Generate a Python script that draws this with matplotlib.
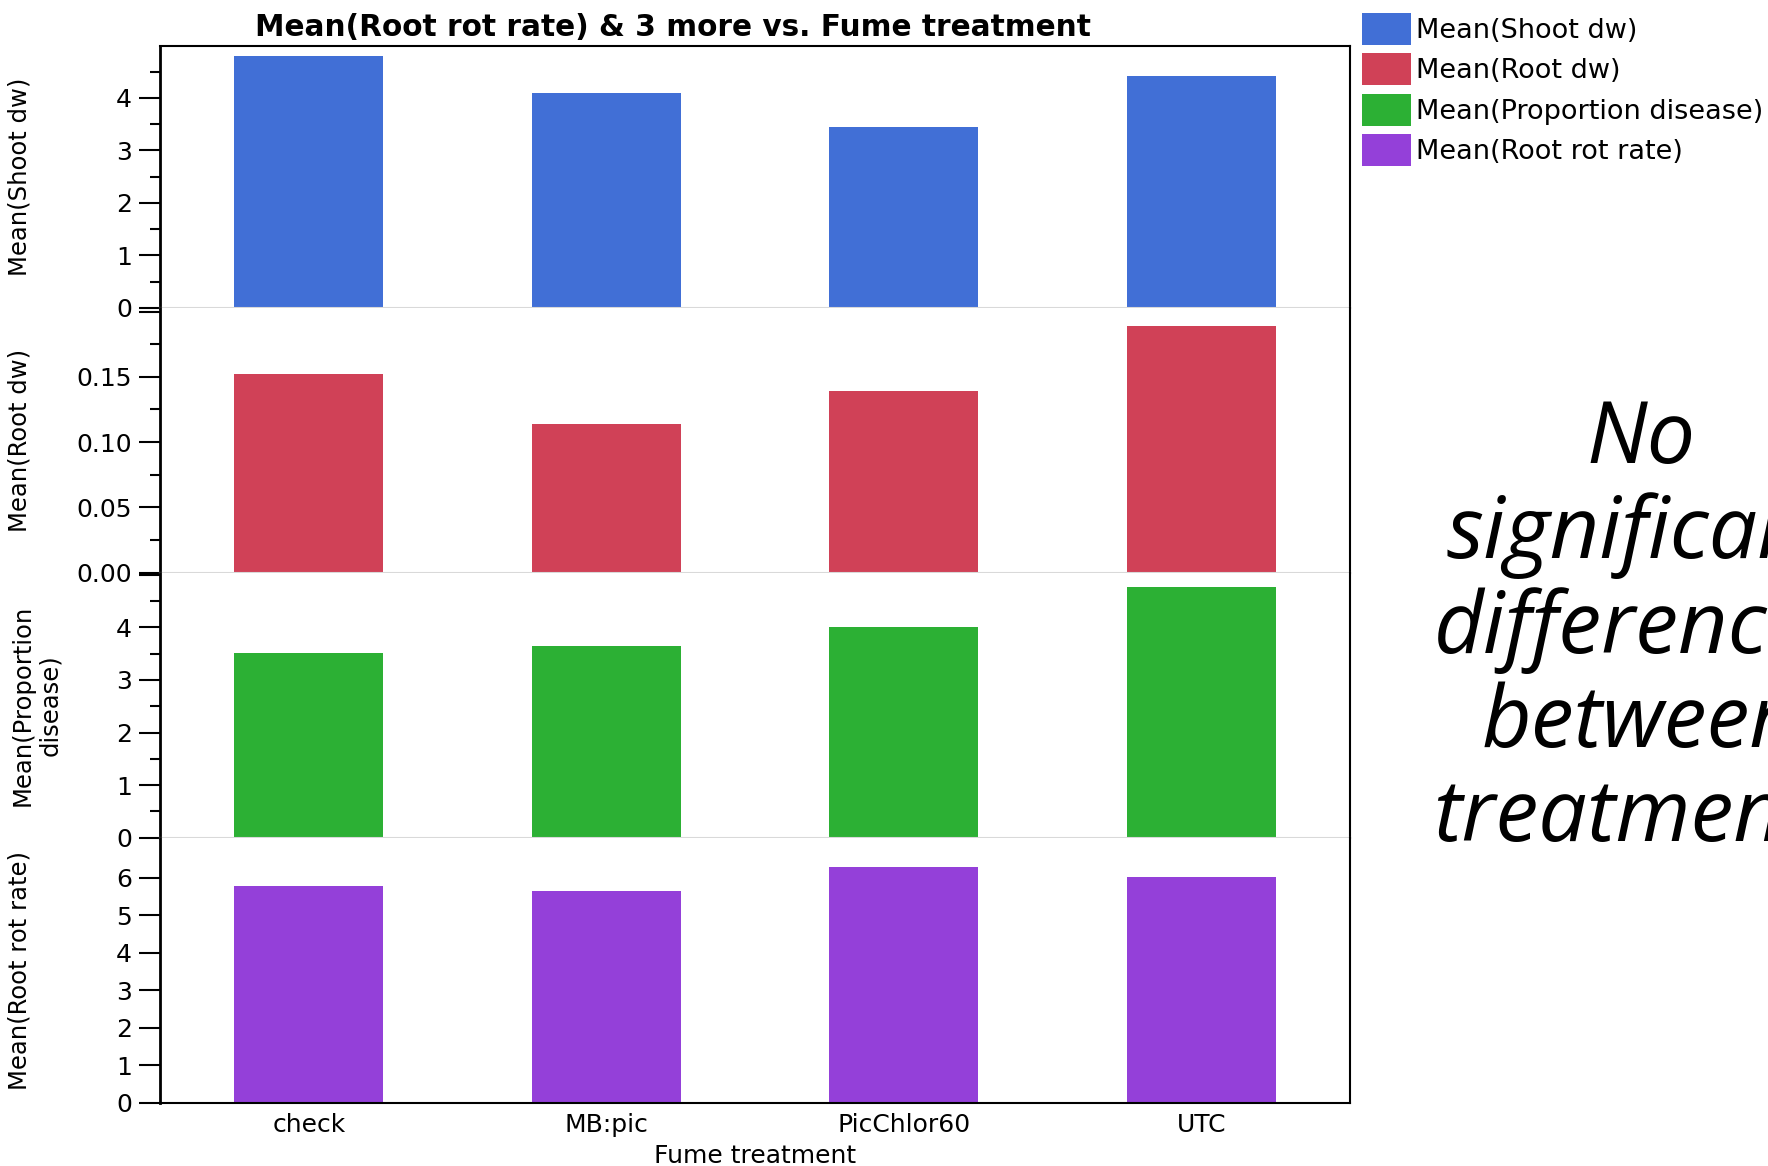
import numpy as np
import matplotlib
matplotlib.use("Agg")
import matplotlib.pyplot as plt
from matplotlib.patches import Patch

plt.rcParams['font.family'] = ['DejaVu Sans']

# data
treatments = ['check', 'MB:pic', 'PicChlor60', 'UTC']
shoot_dw = [4.80, 4.10, 3.45, 4.42]
root_dw = [0.152, 0.114, 0.139, 0.189]
prop_disease = [3.51, 3.64, 4.00, 4.77]
root_rot = [5.78, 5.65, 6.28, 6.02]

series_names = ['Mean(Shoot dw)', 'Mean(Root dw)', 'Mean(Proportion disease)', 'Mean(Root rot rate)']
ylabels = ['Mean(Shoot dw)', 'Mean(Root dw)', 'Mean(Proportion\ndisease)', 'Mean(Root rot rate)']
colors = ['#416FD6', '#D04157', '#2CB034', '#9440D9']
ylims = [4.99, 0.2027, 5.04, 7.07]
major = [[0, 1, 2, 3, 4], [0, 0.05, 0.10, 0.15, 0.20], [0, 1, 2, 3, 4, 5], [0, 1, 2, 3, 4, 5, 6]]
n_labels = [5, 4, 5, 7]   # ticks that carry a label (top one hidden when it sits on the border)
minor_step = [0.5, 0.025, 0.5, None]
fmt = ['%g', '%.2f', '%g', '%g']

W, H = 1768, 1166
fig = plt.figure(figsize=(W / 100, H / 100), dpi=100)

# panel edges in pixels (top to bottom)
left, right = 160, 1350
edges = [46, 308, 572.7, 837.7, 1103]
label_x = [-0.1076, -0.1076, -0.0824, -0.1076]

data = [shoot_dw, root_dw, prop_disease, root_rot]
x = np.arange(len(treatments))
axes = []
for i in range(4):
    top, bot = edges[i], edges[i + 1]
    ax = fig.add_axes([left / W, 1 - bot / H, (right - left) / W, (bot - top) / H])
    ax.bar(x, data[i], width=0.5, color=colors[i], zorder=2)
    ax.set_xlim(-0.5, 3.5)
    ax.set_ylim(0, ylims[i])
    ticks = [t for t in major[i] if t <= ylims[i]]
    ax.set_yticks(ticks)
    labels = [fmt[i] % t if k < n_labels[i] else '' for k, t in enumerate(ticks)]
    ax.set_yticklabels(labels)
    if minor_step[i]:
        ax.set_yticks(np.arange(0, ylims[i], minor_step[i]), minor=True)
    ax.tick_params(axis='y', which='major', length=15, width=1.5, labelsize=18, pad=5)
    ax.tick_params(axis='y', which='minor', length=7, width=1.5)
    ax.set_ylabel(ylabels[i], fontsize=17.5, linespacing=1.2)
    ax.yaxis.set_label_coords(label_x[i], 0.5)
    ax.spines['left'].set_linewidth(2)
    ax.spines['right'].set_linewidth(1.5)
    if i > 0:
        ax.spines['top'].set_visible(False)
    else:
        ax.spines['top'].set_linewidth(1.5)
    if i < 3:
        ax.spines['bottom'].set_color('#d9d9d9')
        ax.spines['bottom'].set_linewidth(1.5)
        ax.set_xticks([])
    else:
        ax.spines['bottom'].set_linewidth(1.5)
        ax.set_xticks(x)
        ax.set_xticklabels(treatments)
        ax.tick_params(axis='x', length=0, labelsize=18, pad=7)
        ax.set_xlabel('Fume treatment', fontsize=18, labelpad=5)
    axes.append(ax)

fig.text(673 / W, 1 - 27 / H, 'Mean(Root rot rate) & 3 more vs. Fume treatment',
         ha='center', va='center', fontsize=21.3, fontweight='bold')

handles = [Patch(facecolor=c, edgecolor='none') for c in colors]
fig.legend(handles, series_names, loc='upper left', bbox_to_anchor=(1362 / W, 1 - 13 / H),
           frameon=False, fontsize=19.5, handlelength=1.8, handleheight=1.45,
           labelspacing=0.3, handletextpad=0.2, borderpad=0, borderaxespad=0)

fig.text(1641 / W, 1 - 630 / H, 'No\nsignificant\ndifferences\nbetween\ntreatments',
         ha='center', va='center', fontsize=62, style='italic', linespacing=1.12,
         family=['Open Sans', 'Lato', 'DejaVu Sans'])

fig.savefig('out.png', dpi=100)
